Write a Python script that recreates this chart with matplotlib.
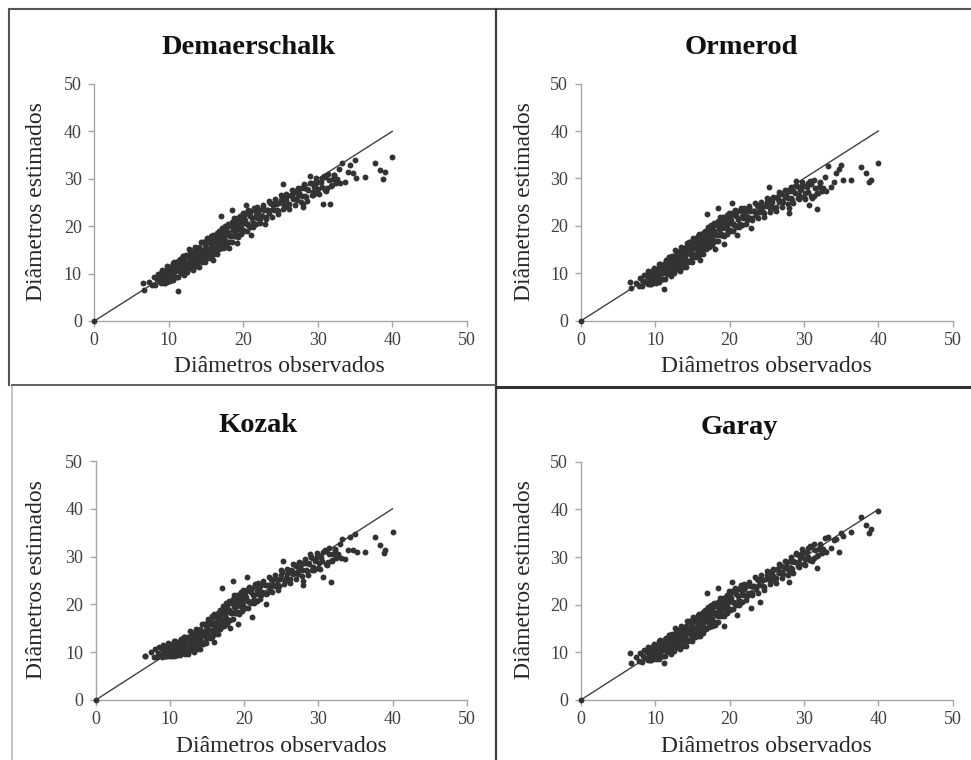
import matplotlib.pyplot as plt
from matplotlib.lines import Line2D

plt.rcParams['font.family'] = ['Liberation Serif', 'DejaVu Serif']

# diametros observados (iguais nos quatro graficos)
observados = [
    0.0, 6.6, 6.7, 7.4, 7.8, 8.0, 8.2, 8.4, 8.5, 8.7,
    8.9, 9.0, 9.1, 9.2, 9.3, 9.4, 9.5, 9.6, 9.7, 9.8,
    9.9, 10.0, 10.1, 10.2, 10.3, 10.4, 10.5, 10.6, 10.7, 10.8,
    10.9, 11.0, 11.1, 11.2, 11.3, 11.4, 11.5, 11.6, 11.7, 11.8,
    11.9, 12.0, 12.1, 12.2, 12.3, 12.4, 12.5, 12.6, 12.7, 12.8,
    12.9, 13.0, 13.1, 13.2, 13.3, 13.4, 13.5, 13.6, 13.7, 13.8,
    13.9, 14.0, 14.1, 14.2, 14.3, 14.4, 14.5, 14.6, 14.7, 14.8,
    14.9, 15.0, 15.1, 15.2, 15.3, 15.4, 15.5, 15.6, 15.7, 15.8,
    15.9, 16.0, 16.1, 16.2, 16.3, 16.4, 16.5, 16.6, 16.7, 16.8,
    16.9, 17.0, 17.1, 17.2, 17.3, 17.4, 17.5, 17.6, 17.7, 17.8,
    17.9, 18.0, 18.1, 18.2, 18.3, 18.4, 18.5, 18.6, 18.7, 18.8,
    18.9, 19.0, 19.1, 19.2, 19.3, 19.4, 19.5, 19.6, 19.7, 19.8,
    19.9, 20.0, 20.2, 20.4, 20.6, 20.8, 21.0, 21.2, 21.4, 21.6,
    21.8, 22.0, 22.3, 22.6, 22.9, 23.2, 23.5, 23.8, 24.1, 24.4,
    24.7, 25.0, 25.3, 25.6, 25.9, 26.2, 26.5, 26.8, 27.1, 27.4,
    27.7, 28.0, 28.0, 28.3, 28.6, 28.9, 29.2, 29.5, 29.8, 30.1,
    30.4, 30.7, 31.0, 31.3, 31.7, 32.0, 32.4, 32.9, 33.2, 33.6,
    34.0, 34.3, 34.7, 35.0, 35.2, 36.3, 37.7, 38.3, 38.8, 39.0,
    40.0,
    9.25, 9.65, 10.05, 10.45, 10.85, 11.25, 11.65, 12.05, 12.45, 12.85,
    13.25, 13.65, 14.05, 14.45, 14.85, 15.25, 15.65, 16.05, 16.45, 16.85,
    17.25, 17.65, 18.05, 18.45, 18.85, 19.25, 19.65, 20.1, 20.5, 20.9,
    21.3, 21.7, 22.15, 22.45, 22.75, 23.05, 23.35, 23.65, 23.95, 24.25,
    24.55, 24.85, 25.15, 25.45, 25.75, 26.05, 26.35, 26.65, 26.95, 27.25,
    27.55, 27.85, 28.15, 28.45, 28.75, 29.05, 29.35, 29.65, 29.95, 30.25,
    30.55, 30.85, 31.15, 31.5, 31.85, 32.2, 32.6, 33.0,
    9.1, 9.3, 9.5, 9.7, 9.9, 10.1, 10.3, 10.5, 10.7, 10.9,
    11.1, 11.3, 11.5, 11.7, 11.9, 12.1, 12.3, 12.5, 12.7, 12.9,
    13.1, 13.3, 13.5, 13.7, 13.9, 14.1, 14.3, 14.5, 14.7, 14.9,
    15.1, 15.3, 15.5, 15.7, 15.9, 16.1, 16.3, 16.5, 16.7, 16.9,
    17.1, 17.3, 17.5, 17.7, 17.9, 18.1, 18.3, 18.5, 18.7, 18.9,
    19.1, 19.3, 19.5, 19.7, 19.9, 20.1, 20.3, 20.5, 20.7, 20.9,
    21.1, 21.3, 21.5, 21.7, 21.9,
    22.2, 22.6, 23.0, 23.4, 23.8, 24.2, 24.6, 25.0, 25.4, 25.8,
    26.2, 26.6, 27.0, 27.4, 27.8, 28.2, 28.6, 29.0, 29.4, 29.8,
    30.2, 30.6, 31.0, 31.4, 31.8, 32.2,
]

est_demaerschalk = [
    0.0, 8.1, 6.5, 8.3, 7.5, 9.2, 7.5, 8.8, 10.0, 8.4,
    9.7, 8.0, 10.8, 9.4, 8.6, 10.4, 8.1, 10.0, 9.5, 11.5,
    8.9, 10.5, 8.4, 11.3, 10.2, 9.7, 12.3, 9.3, 10.9, 11.7,
    10.5, 9.2, 11.8, 6.3, 12.7, 10.5, 11.6, 10.2, 12.7, 11.6,
    13.8, 11.2, 12.5, 10.2, 13.6, 12.3, 11.9, 13.4, 11.2, 14.4,
    12.5, 13.5, 12.0, 14.3, 11.2, 13.6, 15.3, 12.7, 14.0, 12.2,
    14.8, 13.7, 15.6, 13.0, 14.9, 12.5, 14.5, 16.6, 14.0, 16.0,
    13.4, 15.4, 14.1, 16.8, 15.2, 13.3, 16.5, 15.2, 17.9, 14.6,
    16.5, 12.9, 15.4, 17.6, 14.8, 16.8, 18.5, 16.4, 17.6, 15.1,
    18.2, 22.2, 16.8, 18.9, 16.3, 17.9, 20.1, 17.1, 18.9, 16.5,
    18.7, 20.0, 15.4, 18.0, 20.0, 17.9, 23.5, 19.1, 21.0, 18.0,
    20.1, 19.3, 21.0, 16.4, 18.1, 20.8, 19.6, 22.2, 19.2, 20.7,
    21.6, 19.1, 21.3, 24.4, 20.2, 22.5, 18.2, 21.7, 20.5, 23.5,
    21.7, 23.0, 21.5, 24.1, 20.5, 23.5, 22.7, 24.7, 23.4, 24.6,
    23.3, 25.6, 29.0, 24.8, 26.4, 24.6, 26.3, 27.5, 25.8, 26.6,
    28.0, 24.0, 24.7, 26.4, 27.9, 30.6, 26.6, 28.3, 29.4, 27.9,
    29.3, 24.7, 30.4, 28.1, 24.7, 29.9, 29.2, 32.1, 33.3, 29.4,
    31.5, 33.0, 31.2, 33.9, 30.1, 30.3, 33.3, 31.9, 30.0, 31.5,
    34.5,
    9.0, 10.8, 9.2, 11.3, 9.3, 11.6, 11.0, 13.6, 11.3, 13.0,
    12.8, 14.9, 12.8, 15.0, 14.6, 13.6, 16.3, 17.9, 15.6, 17.1,
    16.5, 19.1, 18.2, 20.8, 18.2, 20.4, 19.8, 22.1, 20.5, 22.2,
    20.6, 22.4, 23.4, 22.2, 23.5, 21.9, 23.5, 24.8, 23.6, 24.8,
    23.4, 24.8, 26.2, 24.4, 25.6, 24.1, 26.6, 25.7, 27.2, 25.5,
    27.0, 26.4, 28.0, 26.2, 27.7, 29.2, 27.2, 28.7, 27.0, 29.4,
    28.3, 30.6, 27.5, 29.8, 28.7, 30.9, 29.9, 29.2,
    10.5, 8.0, 10.5, 8.3, 11.3, 9.0, 11.3, 8.6, 12.4, 9.3,
    12.1, 9.2, 13.1, 10.4, 13.7, 9.8, 13.9, 10.4, 15.2, 11.2,
    14.8, 10.8, 15.6, 11.5, 15.3, 11.4, 16.6, 12.6, 16.6, 12.5,
    17.5, 13.8, 17.4, 13.5, 18.2, 14.1, 18.0, 14.1, 18.9, 15.4,
    19.7, 15.5, 19.6, 15.7, 20.5, 16.6, 20.3, 16.6, 21.7, 17.9,
    21.7, 17.7, 21.8, 18.3, 22.8, 18.9, 22.8, 19.0, 23.4, 19.9,
    23.2, 19.8, 23.9, 20.4, 24.0,
    20.7, 24.5, 21.6, 25.3, 22.0, 25.7, 22.5, 26.5, 23.6, 26.8,
    23.7, 27.7, 24.5, 28.1, 25.2, 28.8, 25.4, 29.2, 26.5, 30.1,
    26.7, 30.2, 27.7, 31.1, 28.5, 30.7,
]

est_ormerod = [
    0.0, 8.3, 6.9, 8.1, 7.3, 9.0, 7.3, 8.5, 9.7, 8.2,
    9.4, 7.7, 10.5, 9.1, 8.3, 10.1, 7.8, 9.7, 9.2, 11.2,
    8.6, 10.2, 8.1, 11.0, 9.9, 9.4, 12.0, 8.9, 10.5, 11.3,
    10.1, 8.8, 11.4, 6.7, 12.3, 10.1, 11.3, 9.9, 12.4, 11.3,
    13.5, 10.9, 12.2, 9.9, 13.3, 12.0, 11.7, 13.2, 11.0, 14.2,
    12.3, 13.3, 11.8, 14.1, 11.0, 13.4, 15.2, 12.6, 13.9, 12.1,
    14.7, 13.6, 15.5, 12.9, 14.8, 12.4, 14.5, 16.6, 14.0, 16.0,
    13.4, 15.4, 14.1, 16.8, 15.3, 13.4, 16.5, 15.2, 17.9, 14.7,
    16.6, 12.8, 15.5, 17.7, 14.9, 16.9, 18.6, 16.5, 17.7, 15.2,
    18.3, 22.6, 16.9, 19.1, 16.4, 18.0, 20.3, 17.3, 19.1, 16.6,
    18.9, 20.2, 15.1, 18.2, 20.2, 18.1, 23.7, 19.3, 21.2, 18.2,
    20.3, 19.5, 21.2, 16.3, 18.2, 20.9, 19.7, 22.3, 19.3, 20.7,
    21.6, 19.1, 21.3, 24.8, 20.2, 22.4, 18.2, 21.5, 20.4, 23.3,
    21.6, 22.8, 21.3, 23.8, 19.6, 23.1, 22.3, 24.3, 22.9, 24.1,
    22.7, 25.0, 28.3, 24.2, 25.8, 24.1, 25.7, 26.9, 25.3, 26.1,
    27.4, 22.8, 23.7, 25.8, 27.3, 29.5, 25.9, 27.5, 28.5, 26.9,
    28.3, 24.4, 28.8, 26.4, 23.6, 28.2, 27.4, 30.3, 32.6, 28.3,
    29.3, 31.1, 32.0, 32.8, 29.6, 29.7, 32.5, 31.1, 29.2, 29.7,
    33.3,
    8.7, 10.5, 8.9, 10.9, 8.9, 11.2, 10.6, 13.3, 11.0, 12.7,
    12.6, 14.7, 12.7, 14.9, 14.5, 13.6, 16.4, 18.0, 15.7, 17.2,
    16.6, 19.3, 18.4, 21.0, 18.4, 20.5, 19.8, 22.1, 20.4, 22.1,
    20.5, 22.2, 23.2, 21.9, 23.2, 21.6, 23.1, 24.4, 23.1, 24.3,
    22.9, 24.2, 25.6, 23.8, 25.0, 23.5, 26.0, 25.1, 26.7, 25.0,
    26.5, 25.8, 27.4, 25.5, 27.0, 28.5, 26.5, 27.8, 26.1, 28.4,
    27.2, 29.4, 25.8, 28.1, 26.9, 29.2, 28.1, 27.3,
    10.2, 7.7, 10.2, 8.0, 11.0, 8.7, 11.0, 8.2, 12.0, 8.9,
    11.7, 8.8, 12.8, 10.1, 13.4, 9.5, 13.6, 10.2, 15.0, 11.0,
    14.6, 10.6, 15.5, 11.4, 15.2, 11.3, 16.5, 12.6, 16.6, 12.5,
    17.5, 13.9, 17.4, 13.5, 18.3, 14.2, 18.1, 14.2, 19.0, 15.5,
    19.8, 15.6, 19.8, 15.9, 20.7, 16.8, 20.5, 16.8, 21.9, 18.1,
    21.9, 17.8, 21.9, 18.4, 22.8, 18.9, 22.7, 18.9, 23.4, 19.8,
    23.1, 19.7, 23.8, 20.2, 23.8,
    20.4, 24.2, 21.3, 24.9, 21.6, 25.1, 21.9, 25.9, 23.0, 26.2,
    23.2, 27.2, 24.0, 27.6, 24.7, 28.2, 24.8, 28.5, 25.7, 29.2,
    25.7, 29.0, 26.4, 29.7, 26.9, 29.0,
]

est_kozak = [
    0.0, 9.3, 9.2, 10.1, 9.1, 10.6, 9.0, 9.9, 11.0, 9.4,
    10.6, 9.1, 11.5, 10.1, 9.3, 11.1, 9.2, 10.5, 10.0, 12.0,
    9.4, 10.9, 9.3, 11.6, 10.4, 9.9, 12.4, 9.6, 10.9, 11.6,
    10.4, 9.5, 11.6, 9.6, 12.4, 10.1, 11.2, 9.8, 12.2, 11.1,
    13.2, 10.6, 11.9, 9.8, 12.9, 11.6, 11.2, 12.7, 10.5, 13.6,
    11.7, 12.7, 11.2, 13.5, 10.4, 12.8, 14.5, 11.9, 13.2, 11.4,
    14.0, 12.9, 14.8, 12.2, 14.2, 11.8, 13.8, 15.9, 13.3, 15.4,
    12.8, 14.8, 13.5, 16.3, 14.7, 12.9, 16.0, 14.7, 17.5, 14.2,
    16.2, 12.2, 15.1, 17.4, 14.5, 16.6, 18.3, 16.2, 17.5, 14.9,
    18.1, 23.4, 16.8, 18.9, 16.3, 17.9, 20.2, 17.2, 19.1, 16.6,
    18.9, 20.2, 15.0, 18.3, 20.2, 18.1, 24.8, 19.4, 21.3, 18.2,
    20.4, 19.6, 21.3, 16.0, 18.4, 21.1, 19.9, 22.5, 19.5, 21.0,
    21.9, 19.4, 21.6, 25.8, 20.5, 22.8, 17.3, 22.0, 20.9, 23.8,
    22.1, 23.4, 22.0, 24.5, 20.1, 24.0, 23.2, 25.2, 23.9, 25.2,
    23.8, 26.2, 29.1, 25.5, 27.1, 25.4, 27.0, 28.2, 26.6, 27.4,
    28.7, 24.1, 24.8, 27.1, 28.6, 30.5, 27.3, 29.0, 30.1, 28.6,
    30.0, 25.8, 31.1, 28.8, 24.6, 30.5, 29.7, 32.6, 33.6, 29.6,
    31.4, 34.2, 31.4, 34.7, 30.9, 31.0, 34.2, 32.4, 30.7, 31.4,
    35.2,
    9.7, 11.4, 9.5, 11.4, 9.5, 11.3, 10.5, 12.9, 10.6, 12.2,
    12.0, 14.1, 12.0, 14.2, 13.9, 13.1, 15.9, 17.6, 15.4, 17.0,
    16.5, 19.2, 18.4, 21.1, 18.5, 20.7, 20.1, 22.4, 20.8, 22.5,
    21.0, 22.7, 23.8, 22.6, 24.0, 22.4, 24.0, 25.3, 24.1, 25.3,
    24.0, 25.4, 26.8, 25.1, 26.3, 24.8, 27.3, 26.4, 28.0, 26.3,
    27.8, 27.1, 28.7, 26.9, 28.4, 29.9, 27.9, 29.4, 27.7, 30.1,
    29.0, 31.3, 28.2, 30.5, 29.3, 31.5, 30.5, 29.7,
    11.2, 9.3, 11.1, 9.3, 11.8, 9.3, 11.5, 9.3, 12.4, 9.4,
    11.9, 9.5, 12.7, 9.9, 13.1, 9.6, 13.2, 9.7, 14.5, 10.4,
    14.0, 10.0, 14.8, 10.7, 14.5, 10.6, 15.9, 11.9, 15.9, 11.9,
    16.9, 13.3, 16.9, 13.1, 17.9, 13.8, 17.7, 13.9, 18.8, 15.3,
    19.7, 15.5, 19.7, 15.9, 20.7, 16.8, 20.5, 16.9, 22.0, 18.2,
    22.0, 18.0, 22.1, 18.6, 23.1, 19.2, 23.1, 19.3, 23.7, 20.2,
    23.5, 20.2, 24.3, 20.7, 24.4,
    21.1, 24.9, 22.1, 25.8, 22.5, 26.2, 23.0, 27.1, 24.2, 27.4,
    24.5, 28.5, 25.3, 28.9, 26.0, 29.5, 26.1, 29.9, 27.2, 30.8,
    27.4, 30.9, 28.4, 31.8, 29.1, 31.3,
]

est_garay = [
    0.0, 9.8, 7.7, 9.1, 8.2, 9.8, 8.0, 9.2, 10.4, 8.8,
    10.0, 8.3, 11.1, 9.6, 8.9, 10.7, 8.4, 10.2, 9.7, 11.8,
    9.1, 10.7, 8.6, 11.5, 10.3, 9.8, 12.4, 9.4, 11.0, 11.7,
    10.5, 9.2, 11.8, 7.7, 12.7, 10.5, 11.6, 10.1, 12.6, 11.5,
    13.7, 11.1, 12.4, 10.1, 13.5, 12.2, 11.8, 13.3, 11.1, 14.3,
    12.4, 13.4, 11.9, 14.2, 11.1, 13.5, 15.2, 12.6, 13.9, 12.1,
    14.7, 13.6, 15.5, 12.9, 14.8, 12.4, 14.4, 16.5, 13.9, 15.9,
    13.3, 15.3, 14.0, 16.7, 15.1, 13.2, 16.4, 15.1, 17.8, 14.5,
    16.4, 13.4, 15.3, 17.5, 14.6, 16.6, 18.4, 16.3, 17.5, 14.9,
    18.0, 22.5, 16.6, 18.7, 16.1, 17.7, 19.9, 16.9, 18.7, 16.3,
    18.5, 19.8, 15.8, 17.8, 19.8, 17.7, 23.6, 18.9, 20.8, 17.8,
    19.9, 19.1, 20.8, 15.5, 18.0, 20.7, 19.5, 22.1, 19.1, 20.7,
    21.6, 19.1, 21.3, 24.8, 20.3, 22.6, 17.8, 21.8, 20.7, 23.7,
    22.0, 23.3, 21.9, 24.4, 19.2, 23.9, 23.2, 25.2, 20.6, 25.2,
    23.8, 26.2, 26.9, 25.5, 27.2, 25.5, 27.2, 28.4, 26.8, 27.7,
    29.0, 24.8, 27.0, 27.6, 29.2, 30.8, 28.1, 29.8, 30.9, 29.5,
    31.0, 29.3, 32.1, 29.8, 27.8, 31.6, 30.9, 33.9, 34.3, 31.8,
    33.5, 33.8, 31.1, 35.0, 34.5, 35.3, 38.5, 36.7, 35.0, 35.8,
    39.7,
    9.3, 11.1, 9.3, 11.4, 9.3, 11.5, 10.9, 13.5, 11.2, 12.9,
    12.7, 14.8, 12.7, 14.9, 14.5, 13.5, 16.2, 17.8, 15.5, 16.9,
    16.3, 18.9, 18.0, 20.6, 18.0, 20.2, 19.7, 22.1, 20.5, 22.3,
    20.8, 22.6, 23.7, 22.5, 23.9, 22.4, 23.9, 25.3, 24.1, 25.3,
    24.0, 25.4, 26.8, 25.1, 26.4, 24.9, 27.4, 26.6, 28.2, 26.5,
    28.1, 27.5, 29.2, 27.5, 29.0, 30.6, 28.7, 30.2, 28.6, 31.0,
    30.0, 32.3, 29.2, 31.5, 30.4, 32.7, 31.7, 31.0,
    10.8, 8.3, 10.8, 8.5, 11.5, 9.2, 11.4, 8.7, 12.5, 9.3,
    12.1, 9.2, 13.1, 10.3, 13.6, 9.7, 13.8, 10.3, 15.1, 11.1,
    14.7, 10.7, 15.5, 11.4, 15.2, 11.3, 16.5, 12.5, 16.5, 12.4,
    17.4, 13.7, 17.3, 13.4, 18.1, 14.0, 17.8, 14.0, 18.8, 15.2,
    19.5, 15.3, 19.4, 15.5, 20.3, 16.4, 20.1, 16.4, 21.5, 17.7,
    21.5, 17.6, 21.7, 18.2, 22.8, 18.9, 22.8, 19.0, 23.5, 20.0,
    23.3, 20.0, 24.1, 20.6, 24.3,
    21.0, 24.8, 22.0, 25.8, 22.5, 26.2, 23.0, 27.1, 24.3, 27.5,
    24.6, 28.6, 25.5, 29.2, 26.3, 30.0, 26.7, 30.6, 28.0, 31.6,
    28.3, 31.8, 29.4, 32.8, 30.2, 32.5,
]

titulos = ['Demaerschalk', 'Ormerod', 'Kozak', 'Garay']
estimados = [est_demaerschalk, est_ormerod, est_kozak, est_garay]
ticks = [0, 10, 20, 30, 40, 50]
linha_11 = [0, 40]

W, H = 971, 760
fig = plt.figure(figsize=(W / 100, H / 100), dpi=100)

# posicoes em pixels: (x0, x50, y0, y50) de cada grafico
caixas = [(94.3, 466.7, 321, 84), (580.7, 952.7, 321, 83.5),
          (95.7, 466.7, 700, 461), (580.7, 952.7, 700, 461.7)]
pos_titulo = [(249, 47), (741, 47), (258, 425), (739, 427)]
pos_ylabel = [(37, 202), (524, 202), (37, 580), (524, 580)]
pos_xlabel = [(279, 367), (766, 367), (281, 747), (766, 747)]

cinza_eixo = '#a6a6a6'
cor_ponto = '#333333'

for i in range(4):
    x0, x50, y0, y50 = caixas[i]
    ax = fig.add_axes([x0 / W, 1 - y0 / H, (x50 - x0) / W, (y0 - y50) / H])
    ax.plot(linha_11, linha_11, color='#404040', lw=1.0, zorder=2)
    ax.scatter(observados, estimados[i], s=18, color=cor_ponto,
               linewidths=0, zorder=3, clip_on=False)
    ax.set_xlim(0, 50)
    ax.set_ylim(0, 50)
    ax.set_xticks(ticks)
    ax.set_yticks(ticks)
    for lado in ['top', 'right']:
        ax.spines[lado].set_visible(False)
    for lado in ['left', 'bottom']:
        ax.spines[lado].set_color(cinza_eixo)
        ax.spines[lado].set_linewidth(1.0)
    ax.tick_params(direction='out', length=4, width=1.0, color=cinza_eixo,
                   labelsize=13, labelcolor='#404040')
    ax.tick_params(axis='x', pad=4)
    ax.tick_params(axis='y', pad=5)

    tx, ty = pos_titulo[i]
    fig.text(tx / W, 1 - ty / H, titulos[i], ha='center', va='center',
             fontsize=20.5, fontweight='bold', color='#111111')
    lx, ly = pos_ylabel[i]
    fig.text(lx / W, 1 - ly / H, 'Diâmetros estimados', ha='center',
             va='center', rotation=90, fontsize=17, color='#262626')
    bx, by = pos_xlabel[i]
    fig.text(bx / W, 1 - by / H, 'Diâmetros observados', ha='center',
             va='center', fontsize=17, color='#262626')

# molduras entre os graficos
def linha(xs, ys, cor, lw):
    fig.add_artist(Line2D([x / W for x in xs], [1 - y / H for y in ys],
                          transform=fig.transFigure, color=cor, lw=lw))

linha([9, W], [9, 9], '#555555', 1.5)
linha([9, 9], [9, 385], '#555555', 1.5)
linha([12, 12], [385, H], '#bbbbbb', 1.2)
linha([496, 496], [9, H], '#3c3c3c', 1.6)
linha([12, 496], [385, 385], '#555555', 1.3)
linha([496, W], [386.5, 386.5], '#333333', 2.2)

fig.savefig('out.png', dpi=100, facecolor='white')
